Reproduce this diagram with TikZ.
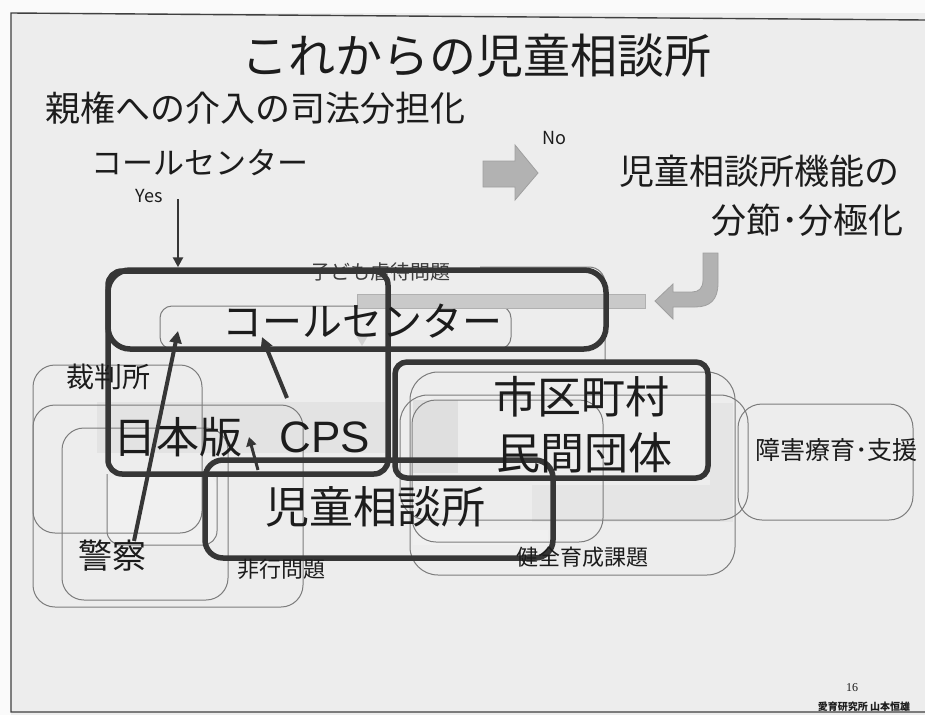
\documentclass[tikz,border=0pt]{standalone}
\usepackage{fontspec}
\setmainfont{Noto Sans CJK JP}
\newfontfamily\lsans{Liberation Sans}
\newfontfamily\lserif{Liberation Serif}
\usetikzlibrary{arrows.meta,fit}
\definecolor{bg}{HTML}{EDEDED}
\definecolor{ink}{HTML}{1C1C1C}
\definecolor{thickc}{HTML}{363636}
\definecolor{thinc}{HTML}{7C7C7C}
\definecolor{blockc}{HTML}{B2B2B2}
\newcommand\fsz[1]{\fontsize{#1}{#1}\selectfont}
\begin{document}
\begin{tikzpicture}[x=1pt,y=-1pt,
  txt/.style={text=ink,inner sep=0pt},
  thickbox/.style={draw=thickc,line width=5.5pt,rounded corners=#1,inner sep=0pt},
  thickbox/.default=20pt,
  thinbox/.style={draw=thinc,line width=1pt,rounded corners=#1,inner sep=0pt},
  thinbox/.default=22pt,
  thinl/.style={draw=thinc,line width=1pt},
  darr/.style={draw=thickc,line width=4pt,-{Triangle[length=12pt,width=12pt]}},
  yarr/.style={draw=thickc,line width=2.5pt,-{Triangle[length=10pt,width=10pt]}},
  blockarr/.style={fill=blockc,draw=gray!75,line width=0.8pt}
]
\path[use as bounding box,fill=bg] (0,0) rectangle (925,715);
\fill[gray!4] (0,0) rectangle (925,13);
\fill[gray!4] (0,0) rectangle (11,715);
% frame
\draw[black!75,line width=1.4pt] (925,20) -- (11,13) -- (11,712) -- (925,712);

% gray fills
\fill[gray!22] (97,402) rectangle (385,453);
\fill[gray!12,rounded corners=14pt] (107,474) -- (107,545) -- (217,545) -- (217,474) -- cycle;
\fill[gray!25] (413,400) rectangle (458,473);
\fill[gray!20] (532,485) rectangle (733,522);
\fill[gray!20] (710,403) rectangle (733,522);
\fill[gray!12] (413,530) rectangle (548,545);

% thin boxes (left)
\node[thinbox,fit={(33,365) (202,533)}] (L1) {};
\node[thinbox,fit={(33,405) (303,607)}] (L2) {};
\node[thinbox,fit={(62,428) (228,600)}] (L3) {};
\draw[thinl,rounded corners=14pt] (107,474) -- (107,545) -- (217,545) -- (217,474);
% thin boxes (right)
\node[thinbox=28pt,fit={(410,372) (735,575)}] (R1) {};
\node[thinbox=28pt,fit={(400,395) (748,520)}] (R2) {};
\node[thinbox=24pt,fit={(412,400) (603,542)}] (R3) {};
\node[thinbox=24pt,fit={(738,404) (913,520)}] (R4) {};
% thin boxes (top)
\node[thinbox=12pt,fit={(160,306) (511,349)}] (ccin) {};
\draw[thinl,rounded corners=16pt] (480,267) -- (605,267) -- (605,362);

% gray bar and triangle
\draw[fill=gray!42,draw=gray!62,line width=0.6pt] (357,294) rectangle (645,308);
\fill[gray!35] (355,334) -- (369,334) -- (362,346) -- cycle;

% faint texts
\node[txt,text=ink!85,font=\fsz{20}] (kodomo) at (380,272) {子ども虐待問題};

% thick boxes
\node[thickbox=22pt,fit={(108,270) (606,349)}] (cc) {};
\node[thickbox=14pt,fit={(108,271) (388,474)}] (cps) {};
\node[thickbox=12pt,fit={(395,362) (708,478)}] (shi) {};
\node[thickbox=18pt,fit={(205,460) (553,558)}] (jido) {};

% texts
\node[txt,font=\fsz{47}] (title) at (476,56) {これからの児童相談所};
\node[txt,font=\fsz{35}] (shinken) at (255,108) {親権への介入の司法分担化};
\node[txt,font=\fsz{31}] (cctop) at (200,163) {コールセンター};
\node[txt,font=\fsz{18}] (yes) at (149,196) {Yes};
\node[txt,font=\fsz{18}] (no) at (554,138) {No};
\node[txt,font=\fsz{35}] (kino) at (759,171) {児童相談所機能の};
\node[txt,font=\fsz{35},anchor=east] (bunsetsu) at (904,220) {分節･分極化};
\node[txt,font=\fsz{40}] (ccbig) at (362,321) {コールセンター};
\node[txt,font=\fsz{43}] (nihon) at (178,437) {日本版};
\node[txt,font=\lsans\fsz{44}] (cpstxt) at (325,437) {CPS};
\node[txt,font=\fsz{44}] (jidotxt) at (375,507) {児童相談所};
\node[txt,font=\fsz{44}] (shitxt) at (581,397) {市区町村};
\node[txt,font=\fsz{44}] (mintxt) at (584,453) {民間団体};
\node[txt,font=\fsz{28}] (saiban) at (108,377) {裁判所};
\node[txt,font=\fsz{34}] (keisatsu) at (112,556) {警察};
\node[txt,font=\fsz{22}] (hiko) at (281,569) {非行問題};
\node[txt,font=\fsz{22}] (kenzen) at (582,557) {健全育成課題};
\node[txt,font=\fsz{25},anchor=east] (shogai) at (918,450) {障害療育･支援};
\node[txt,font=\lserif\fsz{12}] (page) at (852,688) {16};
\node[txt,font=\bfseries\fsz{10}] (author) at (864,707) {愛育研究所\ 山本恒雄};

% arrows
\coordinate (yesS) at (178,199);
\draw[yarr] (yesS) -- (yesS |- cc.north);
\coordinate (kS) at (134,541);
\coordinate (kE) at (178,331);
\draw[darr] (kS) -- (kE);
\coordinate (cS) at (287,398);
\coordinate (cE) at (262,337);
\draw[darr] (cS) -- (cE);
\coordinate (sS) at (258,470);
\coordinate (sE) at (249,437);
\draw[draw=thickc,line width=3pt,-{Triangle[length=9pt,width=10pt]}] (sS) -- (sE);

% block arrows
\draw[blockarr] (483,161) -- (515,161) -- (515,145) -- (538,173) -- (515,200) -- (515,187) -- (483,187) -- cycle;
\draw[blockarr] (703,253) -- (718,253) -- (718,283) .. controls (718,300) and (710,307) .. (695,307) -- (673,307) -- (673,319) -- (655,301) -- (673,284) -- (673,292) -- (692,292) .. controls (699,292) and (703,288) .. (703,280) -- cycle;
\end{tikzpicture}
\end{document}
